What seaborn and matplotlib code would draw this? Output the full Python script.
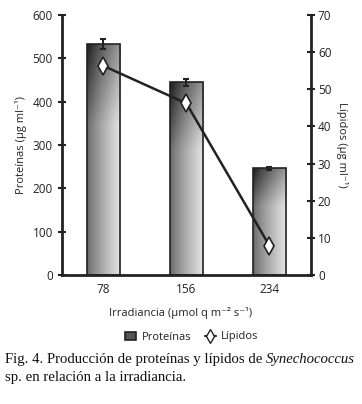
import numpy as np
import pandas as pd
import matplotlib
matplotlib.use("Agg")
import matplotlib.pyplot as plt
import seaborn as sns
from matplotlib.lines import Line2D
from matplotlib.patches import Rectangle

# datos
irradiancia = ["78", "156", "234"]
proteinas = [533, 445, 246]
proteinas_err = [11, 8, 3]
lipidos = [56.3, 46.2, 7.9]

sns.set_theme(style="white")
plt.rcParams["font.family"] = ["Open Sans", "DejaVu Sans"]

df = pd.DataFrame({"Irradiancia": irradiancia, "Proteinas": proteinas})

fig = plt.figure(figsize=(3.62, 4.04), dpi=100)
ax = fig.add_axes([0.171, 0.319, 0.688, 0.644])

sns.barplot(data=df, x="Irradiancia", y="Proteinas", ax=ax, width=0.4,
            color="#888888", edgecolor="#222222", linewidth=1.2, errorbar=None)

# degradado de las barras (oscuro arriba-izquierda, claro abajo-derecha)
u = np.linspace(0, 1, 60)
v = np.linspace(0, 1, 120)
U, V = np.meshgrid(u, v)
grad = np.clip(0.1 + 0.5 * U ** 0.8 + 0.3 * np.clip(V / 0.35, 0, 1), 0, 0.9)
for patch in ax.patches:
    x0, y0 = patch.get_x(), patch.get_y()
    w, h = patch.get_width(), patch.get_height()
    im = ax.imshow(grad, cmap="gray", vmin=0, vmax=1, aspect="auto",
                   extent=[x0, x0 + w, y0, y0 + h], origin="upper", zorder=2)
    im.set_clip_path(patch)
    patch.set_facecolor("none")
    patch.set_zorder(3)

ax.errorbar(range(len(irradiancia)), proteinas, yerr=proteinas_err, fmt="none",
            ecolor="#222222", elinewidth=1.5, capsize=2, capthick=1.5, zorder=4)

ax.set_xlim(-0.5, 2.5)
ax.set_ylim(0, 600)
ax.set_yticks(range(0, 601, 100))
ax.set_xticks([-0.5, 0.5, 1.5, 2.5], minor=False)
ax.set_xticklabels([])
ax.set_xticks([0, 1, 2], minor=True)
ax.set_xticklabels(irradiancia, minor=True)
ax.tick_params(axis="x", which="minor", length=0, pad=6, labelsize=8.5, colors="#222222")
ax.tick_params(axis="x", which="major", direction="inout", length=6, width=1.5, color="#222222")
ax.tick_params(axis="y", direction="inout", length=6, width=1.5, color="#222222",
               labelsize=8.5, labelcolor="#222222", left=True)
ax.set_xlabel("")
ax.set_ylabel("Proteínas (µg ml⁻¹)", fontsize=8, color="#222222", labelpad=4)
for s in ["top", "right"]:
    ax.spines[s].set_visible(False)
for s in ["left", "bottom"]:
    ax.spines[s].set_linewidth(2)
    ax.spines[s].set_color("#222222")

ax2 = ax.twinx()
ax2.plot(range(len(irradiancia)), lipidos, color="#222222", lw=1.8,
         marker="d", markersize=9, markerfacecolor="white",
         markeredgecolor="#222222", markeredgewidth=1.2, zorder=5)
ax2.set_ylim(0, 70)
ax2.set_yticks(range(0, 71, 10))
ax2.tick_params(axis="y", direction="inout", length=6, width=1.5, color="#222222",
                labelsize=8.5, labelcolor="#222222", right=True, pad=2)
ax2.set_ylabel("Lípidos (µg ml⁻¹)", fontsize=8, color="#222222", rotation=270,
               labelpad=12)
for s in ["top", "left", "bottom"]:
    ax2.spines[s].set_visible(False)
ax2.spines["right"].set_linewidth(2)
ax2.spines["right"].set_color("#222222")

fig.text(0.5, 1 - 313 / 404, "Irradiancia (µmol q m⁻² s⁻¹)", ha="center",
         va="center", fontsize=8, color="#222222")

h_bar = Rectangle((0, 0), 1, 1, facecolor="#555555", edgecolor="#222222", lw=1.2)
h_lin = Line2D([], [], color="#222222", lw=1.5, marker="d", markersize=7,
               markerfacecolor="white", markeredgecolor="#222222")
fig.legend([h_bar, h_lin], ["Proteínas", "Lípidos"], loc="center",
           bbox_to_anchor=(0.53, 1 - 337 / 404), ncol=2, frameon=False,
           fontsize=8, handlelength=1.0, handletextpad=0.5, columnspacing=1.2,
           labelcolor="#222222")

# pie de figura
cap = dict(fontsize=10.6, family="Liberation Serif", color="#111111", va="center")
y1 = 1 - 360 / 404
t1 = fig.text(5 / 362, y1, "Fig. 4. Producción de proteínas y lípidos de ", **cap)
r = fig.canvas.get_renderer()
bb = t1.get_window_extent(renderer=r)
fig.text(bb.x1 / fig.bbox.width, y1, "Synechococcus", style="italic", **cap)
fig.text(5 / 362, 1 - 378 / 404, "sp. en relación a la irradiancia.", **cap)

fig.savefig("out.png", dpi=100)
